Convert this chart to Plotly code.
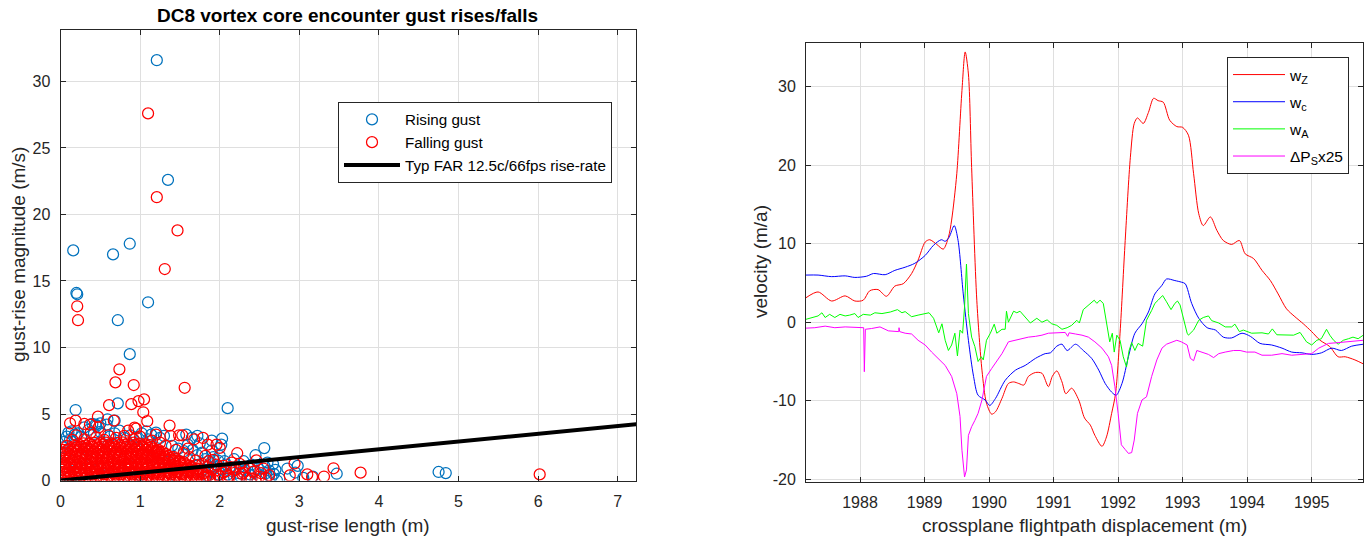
import plotly.graph_objects as go

# ---------------- Left panel data: gust-rise length (m) vs magnitude (m/s) ----------------
rising_outliers = [(1.21, 31.6), (1.35, 22.6), (0.16, 17.3), (0.66, 17.0), (0.87, 17.8), (0.20, 14.1),
                   (0.21, 14.0), (1.10, 13.4), (0.72, 12.05), (0.87, 9.5), (0.72, 5.8), (0.19, 5.3),
                   (2.10, 5.44), (2.56, 2.44), (2.03, 3.15), (4.75, 0.64), (4.84, 0.56), (3.47, 0.51),
                   (2.98, 1.1), (2.72, 0.0), (3.17, 0.3), (2.67, 1.23), (0.44, 4.2), (0.59, 4.6),
                   (0.68, 4.5), (0.50, 4.3), (0.30, 4.0), (2.95, 0.6), (3.05, 0.2), (2.85, 0.9)]
rising_halo = [(0.03, 2.5), (0.05, 2.9), (0.08, 3.3), (0.10, 3.6), (0.14, 3.7), (0.18, 3.45), (0.22, 3.55),
               (0.12, 3.1), (0.26, 3.3), (0.35, 3.8), (0.42, 3.5), (0.50, 3.65), (0.58, 4.2), (0.45, 4.1),
               (0.40, 4.25), (0.62, 3.3), (0.68, 3.55), (0.74, 3.75), (0.80, 3.2), (0.88, 3.4), (0.95, 3.25),
               (1.02, 3.55), (1.08, 3.7), (1.14, 3.45), (1.20, 3.6), (1.25, 3.2), (1.30, 3.35), (1.10, 3.1),
               (1.40, 2.6), (1.48, 2.4), (1.55, 2.2), (1.60, 2.7), (1.66, 2.3), (1.72, 1.9), (1.78, 2.1),
               (1.82, 1.6), (1.88, 1.3), (1.93, 1.05), (1.98, 1.5), (2.02, 0.85), (2.08, 1.2), (2.10, 0.45),
               (2.16, 0.7), (2.20, 1.0), (2.26, 0.3), (2.32, 0.75), (2.38, 0.45), (2.40, 1.2), (2.48, 0.9),
               (2.52, 0.15), (2.58, 0.55), (2.65, 0.25), (2.70, 0.8), (2.60, 1.35), (2.18, 1.6), (2.00, 1.85),
               (1.90, 2.25), (1.75, 2.8), (1.65, 3.2), (1.58, 3.45), (1.72, 3.35), (1.90, 3.0), (2.02, 2.7),
               (2.30, 1.45), (2.45, 1.9), (1.84, 0.35), (1.95, 0.15), (2.05, 0.05), (1.76, 0.6),
               (1.74, 1.2), (1.86, 0.7), (1.98, 0.45), (2.12, 0.9), (2.24, 0.55), (2.34, 0.1), (2.44, 0.7),
               (2.56, 1.1), (2.68, 0.5), (2.75, 0.15), (2.62, 0.75), (2.06, 1.45), (1.92, 1.75)]
rising_core = [(0.10, 0.3), (0.25, 0.9), (0.40, 1.6), (0.55, 0.5), (0.70, 2.1), (0.85, 1.2), (1.00, 0.4),
               (1.15, 1.8), (1.30, 0.9), (1.45, 0.3), (0.30, 2.4), (0.60, 2.7), (0.95, 2.5), (1.20, 2.2),
               (0.15, 1.5), (0.50, 1.0), (0.80, 0.2), (1.35, 1.4), (1.60, 0.7), (0.05, 2.0)]

falling_core = [
    (0.02, 0.06), (0.09, 0.11), (0.16, 0.04), (0.23, 0.09), (0.31, 0.12), (0.37, 0.05), (0.45, 0.08),
    (0.51, 0.13), (0.58, 0.03), (0.66, 0.10), (0.72, 0.07), (0.80, 0.12), (0.86, 0.04), (0.93, 0.09),
    (1.01, 0.06), (1.07, 0.13), (1.15, 0.05), (1.21, 0.10), (1.28, 0.07), (1.36, 0.11), (1.42, 0.04),
    (1.50, 0.09), (1.56, 0.12), (1.64, 0.06), (1.70, 0.10), (1.78, 0.05), (1.92, 0.07),
    (0.04, 0.27), (0.11, 0.22), (0.18, 0.29), (0.25, 0.24), (0.32, 0.21), (0.39, 0.28), (0.46, 0.25),
    (0.53, 0.30), (0.60, 0.23), (0.67, 0.26), (0.74, 0.29), (0.81, 0.22), (0.88, 0.27), (0.95, 0.24),
    (1.02, 0.30), (1.09, 0.25), (1.16, 0.22), (1.23, 0.28), (1.30, 0.24), (1.37, 0.27), (1.44, 0.21),
    (1.51, 0.26), (1.58, 0.29), (1.65, 0.23), (1.72, 0.27), (1.80, 0.22),
    (0.05, 0.44), (0.13, 0.39), (0.19, 0.47), (0.27, 0.41), (0.33, 0.36), (0.40, 0.45), (0.47, 0.40),
    (0.54, 0.48), (0.61, 0.38), (0.68, 0.43), (0.75, 0.46), (0.82, 0.37), (0.89, 0.44), (0.96, 0.41),
    (1.03, 0.47), (1.10, 0.39), (1.17, 0.43), (1.24, 0.45), (1.31, 0.38), (1.38, 0.44), (1.45, 0.41),
    (1.52, 0.46), (1.59, 0.37), (1.66, 0.42), (1.73, 0.45), (1.86, 0.36),
    (0.04, 0.62), (0.11, 0.57), (0.18, 0.63), (0.25, 0.59), (0.32, 0.55), (0.39, 0.61), (0.46, 0.64),
    (0.53, 0.58), (0.60, 0.62), (0.67, 0.56), (0.74, 0.60), (0.81, 0.65), (0.88, 0.57), (0.95, 0.61),
    (1.02, 0.59), (1.09, 0.63), (1.16, 0.56), (1.23, 0.60), (1.30, 0.64), (1.37, 0.58), (1.44, 0.61),
    (1.51, 0.55), (1.58, 0.62), (1.65, 0.59), (1.72, 0.57), (1.79, 0.53),
    (0.02, 0.79), (0.09, 0.74), (0.16, 0.81), (0.23, 0.76), (0.30, 0.72), (0.37, 0.80), (0.44, 0.75),
    (0.51, 0.83), (0.58, 0.77), (0.65, 0.73), (0.72, 0.79), (0.79, 0.76), (0.86, 0.82), (0.93, 0.74),
    (1.00, 0.78), (1.07, 0.81), (1.14, 0.73), (1.21, 0.77), (1.28, 0.80), (1.35, 0.75), (1.42, 0.78),
    (1.49, 0.72), (1.56, 0.81), (1.63, 0.76), (1.70, 0.74),
    (0.04, 0.96), (0.11, 0.92), (0.18, 0.98), (0.25, 0.94), (0.32, 0.90), (0.39, 0.97), (0.46, 0.93),
    (0.53, 0.99), (0.60, 0.95), (0.67, 0.91), (0.74, 0.97), (0.81, 0.94), (0.88, 1.00), (0.95, 0.92),
    (1.02, 0.96), (1.09, 0.93), (1.16, 0.98), (1.23, 0.91), (1.30, 0.95), (1.37, 0.99), (1.44, 0.93),
    (1.51, 0.96), (1.58, 0.90), (1.65, 0.94), (1.71, 0.88),
    (0.05, 1.10), (0.12, 1.15), (0.19, 1.08), (0.26, 1.13), (0.33, 1.17), (0.40, 1.09), (0.47, 1.14),
    (0.54, 1.11), (0.61, 1.16), (0.68, 1.07), (0.75, 1.12), (0.82, 1.15), (0.89, 1.09), (0.96, 1.13),
    (1.03, 1.18), (1.10, 1.10), (1.17, 1.14), (1.24, 1.08), (1.31, 1.12), (1.38, 1.16), (1.45, 1.10),
    (1.52, 1.13), (1.59, 1.07), (1.65, 1.02),
    (0.04, 1.31), (0.11, 1.27), (0.18, 1.33), (0.25, 1.29), (0.32, 1.26), (0.39, 1.32), (0.46, 1.28),
    (0.53, 1.34), (0.60, 1.30), (0.67, 1.27), (0.74, 1.33), (0.81, 1.29), (0.88, 1.25), (0.95, 1.31),
    (1.02, 1.34), (1.09, 1.28), (1.16, 1.32), (1.23, 1.26), (1.30, 1.30), (1.37, 1.33), (1.44, 1.27),
    (1.51, 1.24), (1.58, 1.20), (1.62, 1.12),
    (0.02, 1.45), (0.09, 1.50), (0.16, 1.44), (0.23, 1.48), (0.30, 1.52), (0.37, 1.46), (0.44, 1.43),
    (0.51, 1.49), (0.58, 1.51), (0.65, 1.45), (0.72, 1.48), (0.79, 1.53), (0.86, 1.44), (0.93, 1.47),
    (1.00, 1.50), (1.07, 1.46), (1.14, 1.49), (1.21, 1.43), (1.28, 1.47), (1.35, 1.51), (1.42, 1.45),
    (1.49, 1.42), (1.55, 1.36),
    (0.04, 1.63), (0.11, 1.67), (0.18, 1.61), (0.25, 1.66), (0.32, 1.69), (0.39, 1.62), (0.46, 1.65),
    (0.53, 1.68), (0.60, 1.63), (0.67, 1.66), (0.74, 1.70), (0.81, 1.62), (0.88, 1.65), (0.95, 1.69),
    (1.02, 1.64), (1.09, 1.67), (1.16, 1.61), (1.23, 1.65), (1.30, 1.60), (1.37, 1.56), (1.44, 1.50),
    (1.50, 1.44),
    (0.05, 1.80), (0.12, 1.84), (0.19, 1.78), (0.26, 1.83), (0.33, 1.86), (0.40, 1.80), (0.47, 1.85),
    (0.54, 1.79), (0.61, 1.82), (0.68, 1.87), (0.75, 1.81), (0.82, 1.84), (0.89, 1.78), (0.96, 1.83),
    (1.03, 1.86), (1.10, 1.80), (1.17, 1.84), (1.24, 1.79), (1.31, 1.76), (1.38, 1.71), (1.44, 1.64),
    (0.04, 1.96), (0.11, 2.01), (0.18, 1.98), (0.25, 2.03), (0.32, 1.97), (0.39, 2.02), (0.46, 1.99),
    (0.53, 2.04), (0.60, 1.98), (0.67, 2.02), (0.74, 1.96), (0.81, 2.01), (0.88, 2.04), (0.95, 1.99),
    (1.02, 2.03), (1.09, 1.97), (1.16, 2.00), (1.23, 1.95), (1.30, 1.90), (1.36, 1.84), (1.42, 1.78),
    (0.06, 2.10), (0.13, 2.16), (0.20, 2.19), (0.27, 2.14), (0.34, 2.20), (0.41, 2.15), (0.48, 2.18),
    (0.55, 2.13), (0.62, 2.21), (0.69, 2.16), (0.76, 2.19), (0.83, 2.14), (0.90, 2.20), (0.97, 2.17),
    (1.04, 2.13), (1.11, 2.18), (1.18, 2.12), (1.25, 2.08), (1.32, 2.01),
    (0.09, 2.30), (0.16, 2.34), (0.23, 2.31), (0.30, 2.36), (0.37, 2.33), (0.44, 2.37), (0.51, 2.32),
    (0.58, 2.35), (0.65, 2.38), (0.72, 2.33), (0.79, 2.36), (0.86, 2.31), (0.93, 2.35), (1.00, 2.32),
    (1.07, 2.30), (1.14, 2.27), (1.21, 2.22), (1.28, 2.16),
    (0.12, 2.42), (0.19, 2.48), (0.26, 2.52), (0.33, 2.47), (0.40, 2.53), (0.47, 2.49), (0.54, 2.55),
    (0.61, 2.50), (0.68, 2.54), (0.75, 2.48), (0.82, 2.53), (0.89, 2.51), (0.96, 2.56), (1.03, 2.49),
    (1.10, 2.46), (1.17, 2.40), (1.23, 2.31),
    (0.18, 2.60), (0.25, 2.65), (0.32, 2.62), (0.39, 2.67), (0.46, 2.64), (0.53, 2.69), (0.60, 2.63),
    (0.67, 2.68), (0.74, 2.66), (0.81, 2.70), (0.88, 2.64), (0.95, 2.68), (1.02, 2.63), (1.09, 2.58),
    (1.15, 2.52),
    (0.22, 2.74), (0.29, 2.80), (0.36, 2.77), (0.43, 2.83), (0.50, 2.79), (0.57, 2.85), (0.64, 2.78),
    (0.71, 2.82), (0.78, 2.86), (0.85, 2.80), (0.92, 2.84), (0.99, 2.77), (1.06, 2.72), (1.12, 2.66),
]
falling_halo = [(0.08, 2.6), (0.04, 2.3), (0.15, 3.05), (0.30, 3.1), (0.45, 3.25), (0.55, 3.05), (0.70, 3.2),
                (0.80, 3.35), (0.92, 3.1), (1.00, 3.3), (1.15, 3.0), (1.25, 2.85), (1.32, 2.6), (1.45, 2.3),
                (1.55, 2.05), (1.62, 1.75), (1.70, 1.5), (1.78, 1.25), (1.85, 1.0), (1.95, 0.75), (2.05, 0.6),
                (2.12, 0.35), (2.20, 0.8), (2.28, 0.5), (2.35, 0.2), (2.42, 0.65), (2.50, 0.3), (2.05, 1.1),
                (2.15, 1.35), (1.92, 1.55), (1.82, 1.85), (2.30, 1.0), (2.55, 0.9), (2.62, 0.4), (2.45, 0.05),
                (2.25, 0.1), (2.10, 0.15), (0.20, 3.4), (0.38, 3.6), (0.60, 3.4), (1.20, 3.45), (0.85, 3.75),
                (0.48, 4.0), (0.30, 4.25), (0.95, 3.9), (1.38, 3.35), (1.68, 3.1), (1.85, 2.7), (1.60, 2.4),
                (2.00, 2.45), (1.83, 0.3), (1.98, 0.4),
                (1.74, 0.9), (1.80, 0.55), (1.88, 0.2), (1.90, 0.85), (2.00, 0.3), (2.08, 0.7), (2.14, 1.0),
                (2.22, 0.25), (2.30, 0.6), (2.38, 0.9), (2.40, 0.15), (2.52, 0.55), (2.58, 0.2), (1.96, 1.2),
                (2.25, 1.25), (1.70, 1.15), (1.86, 1.45)]
falling_outliers = [(1.10, 27.6), (1.21, 21.3), (1.47, 18.8), (1.31, 15.9), (0.21, 13.1), (0.22, 12.05),
                    (0.74, 8.36), (0.69, 7.38), (0.92, 7.18), (1.56, 6.97), (0.61, 5.67), (0.89, 5.74),
                    (1.05, 6.1), (0.98, 5.97), (1.04, 5.13), (1.09, 4.46), (0.93, 3.97), (1.37, 4.13),
                    (6.02, 0.46), (3.77, 0.59), (3.43, 0.92), (3.31, 0.3), (3.16, 0.26), (3.10, 0.46),
                    (2.94, 1.28), (2.88, 0.38), (2.46, 1.51), (2.22, 2.05), (1.49, 3.4), (1.53, 3.4),
                    (1.79, 3.2), (1.96, 2.7), (0.12, 4.3), (0.19, 4.5), (0.47, 4.8), (0.67, 4.5), (0.37, 4.2)]

far_len = [0.0, 7.3]
far_mag = [0.0, 4.27]

# ---------------- Right panel data: crossplane displacement (m) vs velocity ----------------
wz_x = [1987.16, 1987.35, 1987.56, 1987.77, 1987.92, 1988.05, 1988.15, 1988.28, 1988.41, 1988.54, 1988.67,
        1988.80, 1988.90, 1989.01, 1989.08, 1989.19, 1989.29, 1989.37, 1989.42, 1989.50, 1989.58, 1989.63,
        1989.68, 1989.73, 1989.81, 1989.89, 1989.96, 1990.04, 1990.10, 1990.20, 1990.30, 1990.38, 1990.46,
        1990.54, 1990.61, 1990.72, 1990.82, 1990.92, 1990.98, 1991.05, 1991.13, 1991.19, 1991.28, 1991.39,
        1991.48, 1991.57, 1991.64, 1991.75, 1991.82, 1991.90, 1991.96, 1992.03, 1992.11, 1992.19, 1992.25,
        1992.30, 1992.39, 1992.47, 1992.55, 1992.62, 1992.70, 1992.80, 1992.91, 1993.00, 1993.09, 1993.17,
        1993.25, 1993.32, 1993.43, 1993.53, 1993.63, 1993.76, 1993.88, 1993.97, 1994.10, 1994.23, 1994.36,
        1994.48, 1994.61, 1994.74, 1994.87, 1995.00, 1995.13, 1995.28, 1995.41, 1995.52, 1995.67, 1995.80]
wz_y = [3.1, 3.85, 2.7, 3.35, 2.7, 2.8, 4.0, 4.15, 3.3, 4.6, 4.9,
        6.2, 7.9, 10.2, 10.5, 9.9, 9.3, 10.8, 13.0, 18.9, 29.5, 34.4,
        31.6, 19.7, 2.8, -6.1, -10.3, -11.7, -11.4, -9.7, -7.8, -7.6, -7.8,
        -8.0, -6.9, -6.4, -6.5, -8.2, -6.9, -6.2, -7.6, -9.1, -8.4, -9.9,
        -12.2, -13.1, -14.4, -15.8, -14.6, -11.6, -9.1, -1.4, 10.4, 21.0, 25.3,
        26.0, 25.3, 26.7, 28.5, 28.2, 28.0, 25.7, 24.9, 24.8, 23.8, 18.9,
        13.8, 12.3, 13.4, 11.7, 10.4, 9.9, 10.4, 8.7, 8.1, 6.6, 5.3,
        3.6, 1.7, 0.7, -0.2, -1.2, -2.3, -3.1, -4.4, -4.4, -4.8, -5.3]

wc_x = [1987.16, 1987.35, 1987.56, 1987.77, 1987.92, 1988.10, 1988.21, 1988.39, 1988.54, 1988.70, 1988.85,
        1989.01, 1989.14, 1989.26, 1989.32, 1989.38, 1989.46, 1989.52, 1989.60, 1989.68, 1989.76, 1989.83,
        1989.94, 1990.01, 1990.10, 1990.25, 1990.41, 1990.56, 1990.72, 1990.87, 1990.95, 1991.05, 1991.13,
        1991.21, 1991.34, 1991.46, 1991.59, 1991.70, 1991.80, 1991.90, 1991.97, 1992.06, 1992.16, 1992.26,
        1992.37, 1992.47, 1992.57, 1992.68, 1992.75, 1992.88, 1992.98, 1993.04, 1993.14, 1993.25, 1993.38,
        1993.51, 1993.63, 1993.76, 1993.92, 1994.05, 1994.20, 1994.38, 1994.54, 1994.69, 1994.85, 1995.00,
        1995.15, 1995.31, 1995.46, 1995.62, 1995.80]
wc_y = [6.0, 6.0, 5.8, 5.9, 5.7, 5.85, 6.2, 6.05, 6.6, 7.0, 7.5,
        8.5, 9.8, 10.5, 10.3, 10.8, 12.3, 10.4, 3.6, -2.3, -6.9, -9.3,
        -9.9, -10.6, -9.7, -7.4, -6.1, -5.5, -4.6, -4.0, -3.9, -3.05, -2.8,
        -3.6, -2.8, -3.6, -4.6, -6.1, -7.8, -8.9, -9.3, -7.8, -4.4, -1.4,
        -0.2, 1.3, 3.6, 4.7, 5.5, 5.3, 5.1, 4.9, 2.4, 0.5, -0.7,
        -1.0, -1.9, -2.0, -1.4, -1.8, -2.7, -2.9, -3.3, -3.8, -3.9, -4.1,
        -3.9, -3.3, -3.6, -3.05, -2.8]

wa_x = [1987.15, 1987.25, 1987.35, 1987.41, 1987.46, 1987.53, 1987.61, 1987.69, 1987.77, 1987.84, 1987.92,
        1987.97, 1988.05, 1988.16, 1988.23, 1988.34, 1988.47, 1988.58, 1988.65, 1988.70, 1988.80, 1988.90,
        1989.01, 1989.07, 1989.14, 1989.19, 1989.22, 1989.27, 1989.32, 1989.37, 1989.42, 1989.47, 1989.51,
        1989.55, 1989.59, 1989.62, 1989.65, 1989.68, 1989.73, 1989.78, 1989.83, 1989.88, 1989.91, 1989.96,
        1990.02, 1990.08, 1990.12, 1990.20, 1990.25, 1990.27, 1990.30, 1990.38, 1990.43, 1990.48, 1990.56,
        1990.64, 1990.74, 1990.82, 1990.90, 1990.97, 1991.05, 1991.13, 1991.21, 1991.28, 1991.36, 1991.40,
        1991.46, 1991.54, 1991.59, 1991.63, 1991.67, 1991.72, 1991.77, 1991.82, 1991.87, 1991.91, 1991.94,
        1991.98, 1992.03, 1992.08, 1992.13, 1992.17, 1992.21, 1992.26, 1992.31, 1992.38, 1992.44, 1992.52,
        1992.57, 1992.62, 1992.69, 1992.75, 1992.82, 1992.88, 1992.92, 1992.96, 1993.00, 1993.07, 1993.09,
        1993.17, 1993.25, 1993.32, 1993.40, 1993.45, 1993.56, 1993.66, 1993.76, 1993.81, 1993.88, 1993.94,
        1994.07, 1994.23, 1994.33, 1994.39, 1994.46, 1994.59, 1994.72, 1994.82, 1994.92, 1995.00, 1995.08,
        1995.15, 1995.23, 1995.28, 1995.34, 1995.41, 1995.49, 1995.57, 1995.64, 1995.72, 1995.80]
wa_y = [0.34, 0.6, 0.8, 1.2, 0.6, 1.0, 0.6, 1.0, 0.8, 0.9, 1.1,
        0.6, 1.0, 0.9, 1.2, 1.1, 1.3, 1.6, 1.2, 1.35, 0.7, 0.9,
        1.1, 1.2, 0.5, -0.6, -1.35, -0.2, -2.3, -3.6, -2.9, -1.4, -4.3,
        -1.0, -1.4, 1.9, 7.4, 1.1, -1.9, -3.1, -5.0, -4.4, -4.8, -2.3,
        -1.4, -0.25, -1.4, -0.9, -0.9, 1.4, 0.0, 1.4, 1.2, 1.4, 0.7,
        -0.1, 0.5, 0.0, 0.3, -0.2, -0.4, -0.9, -0.7, -0.4, 0.25, -0.1,
        1.6, 2.2, 2.5, 2.8, 2.4, 2.8, 2.4, 0.0, -2.5, -1.4, -3.8,
        -1.65, -2.3, -4.4, -5.7, -3.6, -2.6, -3.6, -2.7, -3.05, 0.25, 1.5,
        2.4, 2.8, 3.4, 2.6, 1.6, 2.4, 2.7, 2.2, 0.8, -1.4, -1.65,
        -1.0, 0.25, 0.6, 0.8, 0.2, -0.1, -0.6, -0.6, -0.25, -1.2, -1.0,
        -1.4, -1.35, -1.5, -0.85, -1.6, -1.65, -1.65, -1.3, -2.5, -2.9, -2.3,
        -2.1, -0.9, -1.65, -2.3, -2.8, -2.3, -2.1, -1.9, -2.1, -1.65]

dps_x = [1987.15, 1987.30, 1987.46, 1987.61, 1987.77, 1987.92, 1988.057, 1988.067, 1988.083, 1988.18,
         1988.31, 1988.44, 1988.54, 1988.60, 1988.605, 1988.615, 1988.70, 1988.80, 1988.90, 1989.01,
         1989.11, 1989.21, 1989.32, 1989.42, 1989.50, 1989.55, 1989.58, 1989.62, 1989.65, 1989.68,
         1989.73, 1989.78, 1989.83, 1989.89, 1989.96, 1990.04, 1990.12, 1990.20, 1990.30, 1990.41,
         1990.51, 1990.61, 1990.72, 1990.82, 1990.92, 1991.08, 1991.18, 1991.22, 1991.24, 1991.34,
         1991.44, 1991.54, 1991.64, 1991.75, 1991.85, 1991.90, 1991.95, 1992.00, 1992.05, 1992.11,
         1992.16, 1992.21, 1992.25, 1992.30, 1992.37, 1992.44, 1992.52, 1992.60, 1992.68, 1992.75,
         1992.83, 1992.91, 1992.98, 1993.07, 1993.12, 1993.17, 1993.22, 1993.30, 1993.40, 1993.48,
         1993.56, 1993.66, 1993.79, 1993.89, 1993.99, 1994.12, 1994.23, 1994.38, 1994.54, 1994.69,
         1994.85, 1995.00, 1995.11, 1995.26, 1995.41, 1995.57, 1995.69, 1995.80]
dps_y = [-0.76, -0.7, -0.5, -0.7, -0.6, -0.7, -0.7, -6.3, -0.9, -0.8,
         -0.6, -1.1, -1.2, -1.2, -0.7, -1.2, -1.4, -1.5, -2.3, -2.9,
         -3.8, -4.6, -5.5, -6.9, -9.1, -12.0, -16.3, -19.7, -18.8, -14.4,
         -13.3, -12.5, -11.6, -9.9, -6.9, -5.9, -5.0, -4.0, -2.5, -2.3,
         -2.1, -1.9, -1.8, -1.65, -1.4, -1.35, -1.3, -1.8, -1.35, -1.5,
         -1.65, -1.9, -2.5, -3.3, -4.4, -5.5, -8.2, -11.6, -15.6, -16.2,
         -16.7, -16.6, -15.0, -11.6, -9.9, -9.5, -6.9, -4.8, -3.3, -2.8,
         -2.5, -2.3, -2.5, -2.9, -4.6, -4.9, -3.6, -3.8, -4.1, -4.5,
         -4.0, -3.8, -3.6, -3.6, -3.8, -3.8, -4.2, -4.2, -4.0, -4.2,
         -4.1, -4.0, -3.3, -2.7, -2.6, -2.5, -2.4, -2.3]

left_xticks = [0, 1, 2, 3, 4, 5, 6, 7]
left_yticks = [0, 5, 10, 15, 20, 25, 30]
right_xticks = [1988, 1989, 1990, 1991, 1992, 1993, 1994, 1995]
right_yticks = [-20, -10, 0, 10, 20, 30]
right_yticklabels = ["-20", "-10", "0", "10", "20", "30"]

# ---------------- Build figure ----------------
W, H = 1371, 537
FONT = "Liberation Sans, Arial, sans-serif"
AX = "#262626"
GRID = "#dfdfdf"

rising = rising_core + rising_halo + rising_outliers
falling = falling_core + falling_halo + falling_outliers

fig = go.Figure()
mk = dict(symbol="circle-open", size=11)
fig.add_trace(go.Scatter(x=[p[0] for p in rising], y=[p[1] for p in rising], mode="markers",
                         name="Rising gust", marker=dict(color="#0072BD", line=dict(width=1.25), **mk),
                         xaxis="x", yaxis="y", legend="legend"))
fig.add_trace(go.Scatter(x=[p[0] for p in falling], y=[p[1] for p in falling], mode="markers",
                         name="Falling gust", marker=dict(color="#FF0000", line=dict(width=1.25), **mk),
                         xaxis="x", yaxis="y", legend="legend"))
fig.add_trace(go.Scatter(x=far_len, y=far_mag, mode="lines", name="Typ FAR 12.5c/66fps rise-rate",
                         line=dict(color="black", width=4), xaxis="x", yaxis="y", legend="legend"))

fig.add_trace(go.Scatter(x=wz_x, y=wz_y, mode="lines", name="w<sub>Z</sub>", legendgroup="g1",
                         line=dict(color="#FF0000", width=1, shape="spline", smoothing=0.8),
                         xaxis="x2", yaxis="y2", legend="legend2"))
fig.add_trace(go.Scatter(x=wc_x, y=wc_y, mode="lines", name="w<sub>c</sub>", legendgroup="g2",
                         line=dict(color="#0000FF", width=1, shape="spline", smoothing=0.8),
                         xaxis="x2", yaxis="y2", legend="legend2"))
fig.add_trace(go.Scatter(x=wa_x, y=wa_y, mode="lines", name="w<sub>A</sub>", legendgroup="g3",
                         line=dict(color="#00FF00", width=1),
                         xaxis="x2", yaxis="y2", legend="legend2"))
fig.add_trace(go.Scatter(x=dps_x, y=dps_y, mode="lines", name="ΔP<sub>S</sub>x25", legendgroup="g4",
                         line=dict(color="#FF00FF", width=1),
                         xaxis="x2", yaxis="y2", legend="legend2"))


def px_x(p):
    return p / W


def px_y(p):
    return 1 - p / H


axis_common = dict(showline=True, linecolor=AX, linewidth=1, mirror="ticks", ticks="inside",
                   ticklen=5, tickcolor=AX, showgrid=True, gridcolor=GRID, gridwidth=1,
                   zeroline=False, tickfont=dict(family=FONT, size=16, color=AX), automargin=False)

fig.update_layout(
    template="none",
    width=W, height=H,
    margin=dict(l=0, r=0, t=0, b=0),
    paper_bgcolor="white", plot_bgcolor="white",
    font=dict(family=FONT, color=AX),
    xaxis=dict(domain=[px_x(60.5), px_x(636)], range=[0, 7.23], tickvals=left_xticks,
               ticklabelstandoff=6, anchor="y", **axis_common),
    yaxis=dict(domain=[px_y(480.5), px_y(30)], range=[0, 33.87], tickvals=left_yticks,
               ticklabelstandoff=6, anchor="x", **axis_common),
    xaxis2=dict(domain=[px_x(806), px_x(1363.3)], range=[1987.163, 1995.80], tickvals=right_xticks,
                ticklabelstandoff=6, anchor="y2", **axis_common),
    yaxis2=dict(domain=[px_y(481.7), px_y(43.3)], range=[-20.3, 35.5], tickvals=right_yticks,
                ticktext=right_yticklabels, ticklabelstandoff=6, anchor="x2", **axis_common),
    legend=dict(x=px_x(338), y=px_y(142.5), xanchor="left", yanchor="middle", bgcolor="white",
                bordercolor=AX, borderwidth=1, font=dict(family=FONT, size=15.2, color="black"),
                itemwidth=56, tracegroupgap=0),
    legend2=dict(x=px_x(1227), y=px_y(57), xanchor="left", yanchor="top", bgcolor="white",
                 bordercolor=AX, borderwidth=1, font=dict(family=FONT, size=15.5, color="black"),
                 itemwidth=52, tracegroupgap=4),
    annotations=[
        dict(text="<b>DC8 vortex core encounter gust rises/falls</b>", x=px_x(347), y=px_y(15),
             xref="paper", yref="paper", showarrow=False, xanchor="center", yanchor="middle",
             font=dict(family=FONT, size=19, color="black")),
        dict(text="gust-rise length (m)", x=px_x(348), y=px_y(525), xref="paper", yref="paper",
             showarrow=False, xanchor="center", yanchor="middle", font=dict(family=FONT, size=19, color=AX)),
        dict(text="gust-rise magnitude (m/s)", x=px_x(18), y=px_y(255), xref="paper", yref="paper",
             showarrow=False, textangle=-90, xanchor="center", yanchor="middle",
             font=dict(family=FONT, size=19, color=AX)),
        dict(text="crossplane flightpath displacement (m)", x=px_x(1084), y=px_y(525), xref="paper",
             yref="paper", showarrow=False, xanchor="center", yanchor="middle",
             font=dict(family=FONT, size=19, color=AX)),
        dict(text="velocity (m/a)", x=px_x(760), y=px_y(262), xref="paper", yref="paper",
             showarrow=False, textangle=-90, xanchor="center", yanchor="middle",
             font=dict(family=FONT, size=19, color=AX)),
    ],
)

fig.write_html("out.html")
